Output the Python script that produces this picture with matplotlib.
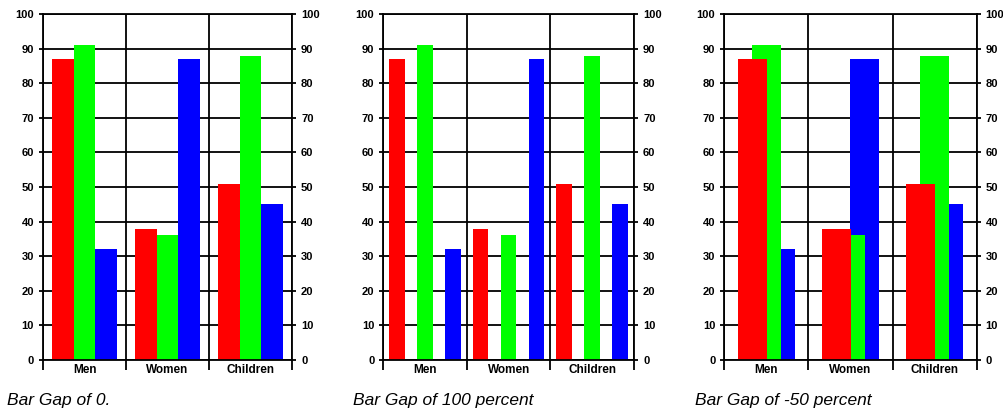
import matplotlib
matplotlib.use("Agg")
import matplotlib.pyplot as plt
import numpy as np

categories = ["Men", "Women", "Children"]
red_values = [87, 38, 51]
green_values = [91, 36, 88]
blue_values = [32, 87, 45]
y_ticks = list(range(0, 101, 10))
captions = ["Bar Gap of 0.", "Bar Gap of 100 percent", "Bar Gap of -50 percent"]

plt.rcParams['font.family'] = ['Liberation Sans', 'DejaVu Sans']

fig = plt.figure(figsize=(10.04, 4.12), dpi=100)
W, H = 1004, 412

# (left_px, right_px, bar_width, step)
panels = [
    (43, 292, 0.26, 0.26),
    (383.3, 634, 0.187, 0.335),
    (724.3, 976.7, 0.345, 0.17),
]
caption_x = [7, 353, 695]
top_px, bot_px = 14, 360
lw = 1.3

x = np.arange(len(categories))
for i, (l, r, bw, step) in enumerate(panels):
    ax = fig.add_axes([l / W, (H - bot_px) / H, (r - l) / W, (bot_px - top_px) / H])
    # draw order: blue bottom, green, red on top
    ax.bar(x + step, blue_values, width=bw, color='#0000ff', zorder=2)
    ax.bar(x, green_values, width=bw, color='#00ff00', zorder=3)
    ax.bar(x - step, red_values, width=bw, color='#ff0000', zorder=4)
    ax.set_xlim(-0.5, 2.5)
    ax.set_ylim(0, 100)
    ax.set_yticks(y_ticks)
    ax.set_yticklabels([str(v) for v in y_ticks], fontsize=8, fontweight='bold')
    ax.tick_params(axis='y', which='both', left=True, right=True, labelleft=True,
                   labelright=True, direction='out', length=3, width=lw, pad=3.5)
    ax.set_xticks([-0.5, 0.5, 1.5, 2.5])
    ax.set_xticklabels([])
    ax.set_xticks(x, minor=True)
    ax.set_xticklabels(categories, minor=True, fontsize=8.5, fontweight='bold')
    ax.tick_params(axis='x', which='major', direction='out', length=7, width=lw)
    ax.tick_params(axis='x', which='minor', length=0, pad=3)
    ax.grid(True, which='major', color='black', linewidth=lw, zorder=1)
    ax.set_axisbelow(True)
    for s in ax.spines.values():
        s.set_linewidth(lw)
        s.set_zorder(5)
    fig.text(caption_x[i] / W, (H - 401) / H, captions[i], fontsize=12.5,
             style='italic', va='center', ha='left')

fig.savefig("out.png", dpi=100)
